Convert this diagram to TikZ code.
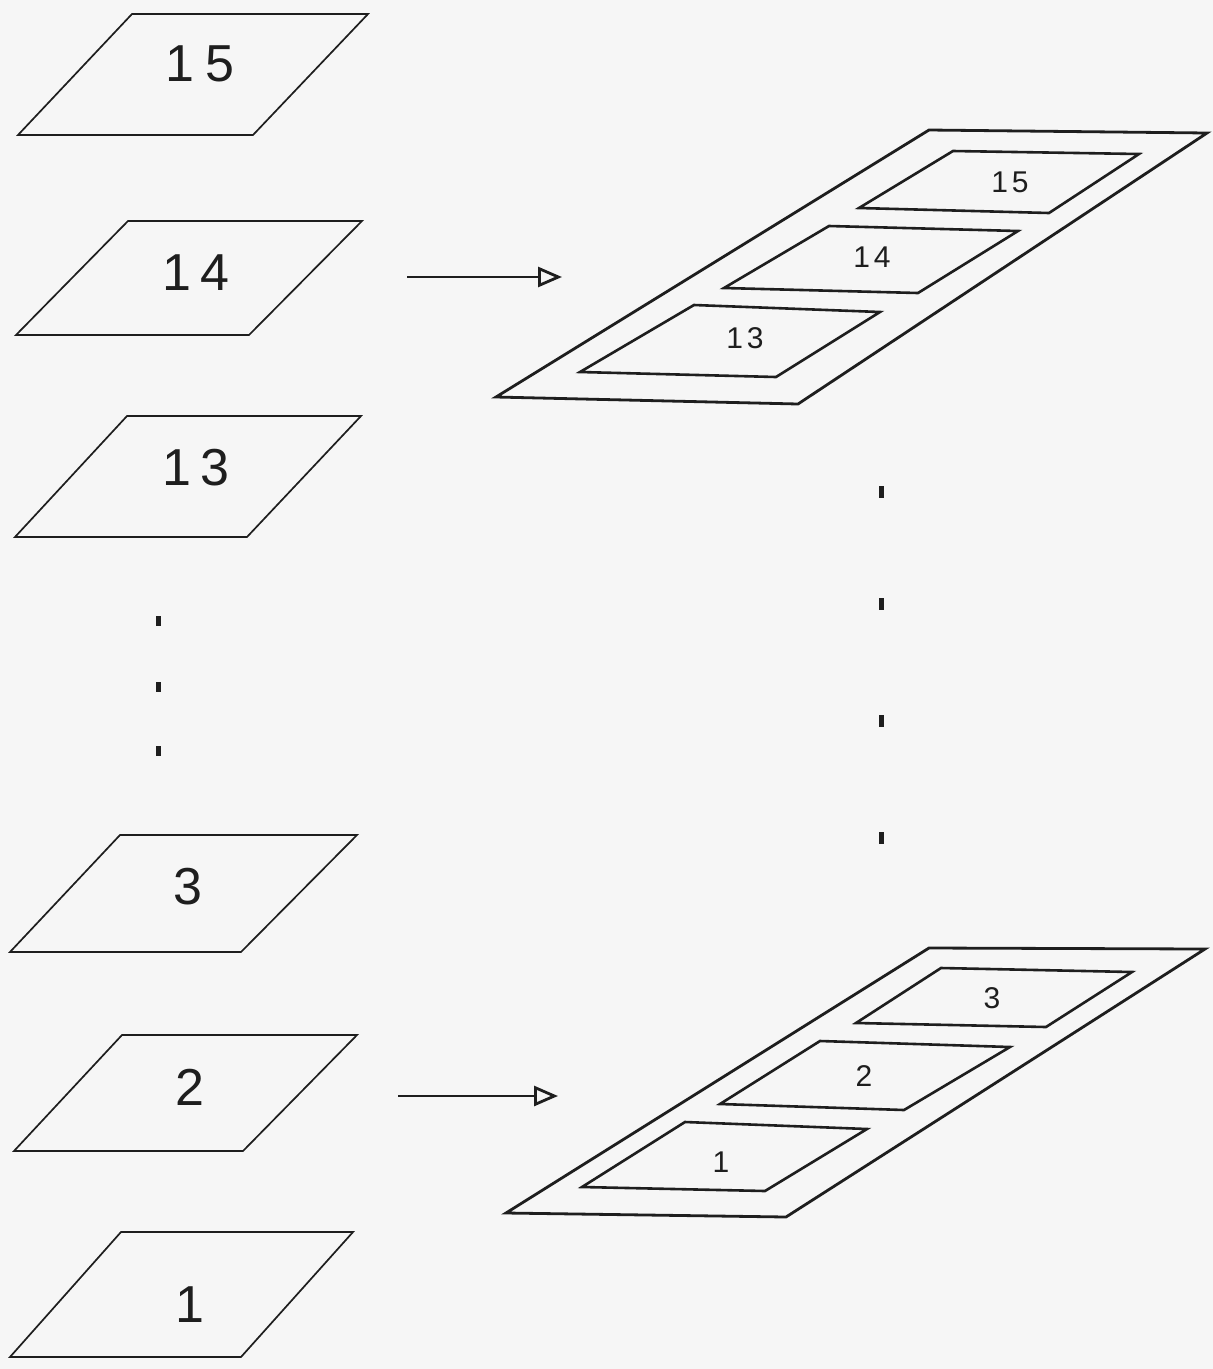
\documentclass[tikz,border=0pt]{standalone}
\usepackage{fontspec}
\setmainfont{Liberation Sans}
\usetikzlibrary{arrows.meta}
\definecolor{paper}{RGB}{246,246,246}
\definecolor{ink}{RGB}{30,30,30}
\tikzset{
  leftpg/.style={draw=ink, line width=1.7pt, line join=miter},
  framepg/.style={draw=ink, line width=2.8pt, line join=miter},
  innerpg/.style={draw=ink, line width=2.6pt, line join=miter},
  biglbl/.style={font=\fontsize{52}{52}\selectfont, text=ink, inner sep=0pt},
  smalllbl/.style={font=\fontsize{30}{30}\selectfont, text=ink, inner sep=0pt},
  feed/.style={draw=ink, line width=1.5pt, -{Triangle[open, length=24pt 0, width=20pt 0, line width=2.8pt]}},
  dotmark/.style={fill=ink}
}
\begin{document}
\begin{tikzpicture}[x=1pt, y=-1pt]
\fill[paper] (0,0) rectangle (1213,1369);
\useasboundingbox (0,0) rectangle (1213,1369);

% ---- left column of layers ----
\draw[leftpg] (132,14) -- (368,14) -- (253,135) -- (18,135) -- cycle;
\node[biglbl] (L15) at (200,64) {1\hspace{12pt}5};
\draw[leftpg] (128,221) -- (362,221) -- (249,335) -- (16,335) -- cycle;
\node[biglbl] (L14) at (196,273) {1\hspace{10pt}4};
\draw[leftpg] (127,416) -- (361,416) -- (247,537) -- (15,537) -- cycle;
\node[biglbl] (L13) at (196,468) {1\hspace{10pt}3};
\draw[leftpg] (120,835) -- (357,835) -- (241,952) -- (10,952) -- cycle;
\node[biglbl] (L3) at (188,887) {3};
\draw[leftpg] (122,1035) -- (357,1035) -- (243,1151) -- (14,1151) -- cycle;
\node[biglbl] (L2) at (190,1087) {2};
\draw[leftpg] (121,1232) -- (353,1232) -- (241,1357) -- (10,1357) -- cycle;
\node[biglbl] (L1) at (190,1305) {1};

% left dots
\foreach \yy in {621,687,751} \fill[dotmark] (155.5,\yy-5) rectangle (160.5,\yy+5);

% ---- top frame ----
\draw[framepg] (929,130) -- (1207,133) -- (798,404) -- (496,397) -- cycle;
\draw[innerpg] (953,151) -- (1139,154) -- (1049,213) -- (859,208) -- cycle;
\node[smalllbl] (R15) at (1010,182) {1\hspace{4pt}5};
\draw[innerpg] (829,226) -- (1018,231) -- (918,293) -- (724,288) -- cycle;
\node[smalllbl] (R14) at (872,257) {1\hspace{4pt}4};
\draw[innerpg] (694,305) -- (880,312) -- (776,377) -- (580,372) -- cycle;
\node[smalllbl] (R13) at (745,338) {1\hspace{4pt}3};

% right dots
\foreach \yy in {492,604,721,838} \fill[dotmark] (878.5,\yy-6) rectangle (883.5,\yy+6);

% ---- bottom frame ----
\draw[framepg] (929,948) -- (1205,949) -- (786,1217) -- (506,1213) -- cycle;
\draw[innerpg] (941,968) -- (1132,972) -- (1046,1027) -- (856,1023) -- cycle;
\node[smalllbl] (R3) at (992,998) {3};
\draw[innerpg] (820,1041) -- (1010,1047) -- (904,1110) -- (720,1104) -- cycle;
\node[smalllbl] (R2) at (864,1076) {2};
\draw[innerpg] (685,1122) -- (867,1129) -- (765,1191) -- (582,1187) -- cycle;
\node[smalllbl] (R1) at (721,1162) {1};

% ---- arrows ----
\coordinate (a1s) at (407,277);
\coordinate (a1e) at (562,277);
\draw[feed] (a1s) -- (a1e);
\coordinate (a2s) at (398,1096);
\coordinate (a2e) at (558,1096);
\draw[feed] (a2s) -- (a2e);
\end{tikzpicture}
\end{document}
